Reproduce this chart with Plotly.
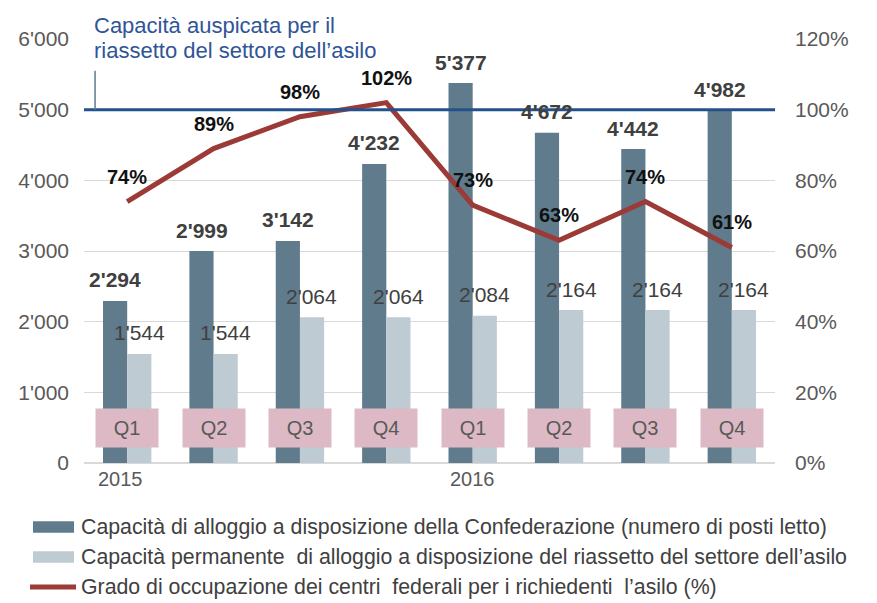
import plotly.graph_objects as go

periods = ["2015 Q1", "2015 Q2", "2015 Q3", "2015 Q4", "2016 Q1", "2016 Q2", "2016 Q3", "2016 Q4"]
quarter_labels = ["Q1", "Q2", "Q3", "Q4", "Q1", "Q2", "Q3", "Q4"]
year_labels = ["2015", "2016"]
year_positions = ["2015 Q1", "2016 Q1"]
capacity_confed = [2294, 2999, 3142, 4232, 5377, 4672, 4442, 4982]
capacity_permanent = [1544, 1544, 2064, 2064, 2084, 2164, 2164, 2164]
occupancy_pct = [74, 89, 98, 102, 73, 63, 74, 61]
target_capacity = 5000
target_label_lines = ["Capacità auspicata per il", "riassetto del settore dell’asilo"]

names = [
    "Capacità di alloggio a disposizione della Confederazione (numero di posti letto)",
    "Capacità permanente  di alloggio a disposizione del riassetto del settore dell’asilo",
    "Grado di occupazione dei centri  federali per i richiedenti  l’asilo (%)",
]

FONT = "Liberation Sans, Arial, sans-serif"
GRAY = "#595959"
DARK = "#404040"
C_DARK = "#5f7b8c"
C_LIGHT = "#bfcbd3"
C_LINE = "#9b3a36"


def fmt(v):
    return f"{v:,}".replace(",", "'")


fig = go.Figure()
fig.add_trace(go.Bar(
    x=periods, y=capacity_confed, name=names[0],
    marker=dict(color=C_DARK, line=dict(width=0)), showlegend=False,
))
fig.add_trace(go.Bar(
    x=periods, y=capacity_permanent, name=names[1],
    marker=dict(color=C_LIGHT, line=dict(width=0)), showlegend=False,
))
fig.add_trace(go.Scatter(
    x=periods, y=occupancy_pct, name=names[2], yaxis="y2",
    mode="lines", line=dict(color=C_LINE, width=5),
    cliponaxis=False, showlegend=False,
))

# data labels
for p, v in zip(periods, capacity_confed):
    fig.add_annotation(x=p, y=v, xref="x", yref="y", text=fmt(v), showarrow=False,
                       xshift=-12, yshift=21, yanchor="middle",
                       font=dict(family=FONT, size=21, color=DARK, weight="bold"))
for p, v in zip(periods, capacity_permanent):
    fig.add_annotation(x=p, y=v, xref="x", yref="y", text=fmt(v), showarrow=False,
                       xshift=12, yshift=21, yanchor="middle",
                       font=dict(family=FONT, size=21, color=DARK))
for p, v in zip(periods, occupancy_pct):
    fig.add_annotation(x=p, y=v, xref="x", yref="y2", text=f"{v}%", showarrow=False,
                       yshift=25, yanchor="middle",
                       font=dict(family=FONT, size=20, color="#111111", weight="bold"))

# target capacity line
fig.add_shape(type="line", xref="paper", x0=0, x1=1, yref="y", y0=target_capacity, y1=target_capacity,
              line=dict(color="#24508b", width=3), layer="above")
fig.add_shape(type="line", xref="paper", x0=0.016, x1=0.016, yref="y", y0=target_capacity, y1=5550,
              line=dict(color="#5f7b8c", width=1.5))
for yy, line_text in zip([1.033, 0.974], target_label_lines):
    fig.add_annotation(xref="paper", yref="paper", x=0.0116, y=yy, xanchor="left", yanchor="middle",
                       align="left", showarrow=False, text=line_text,
                       font=dict(family=FONT, size=22, color="#2f5597"))

# quarter boxes
for p, q in zip(periods, quarter_labels):
    fig.add_annotation(x=p, y=490, xref="x", yref="y", text=q, showarrow=False,
                       bgcolor="#dcb9c5", width=58, height=34, borderpad=2,
                       font=dict(family=FONT, size=20, color=GRAY))
# years
for p, yl in zip(year_positions, year_labels):
    fig.add_annotation(x=p, y=0, xref="x", yref="paper", yshift=-29, text=yl, showarrow=False,
                       xshift=-7 if yl == "2015" else 0,
                       font=dict(family=FONT, size=20, color=GRAY))

# legend (drawn by hand to match the wide swatches)
leg_y = [-0.151, -0.2217, -0.2925]
swatch_h = 0.0135
for i, (yy, nm) in enumerate(zip(leg_y, names)):
    if i < 2:
        fig.add_shape(type="rect", xref="paper", yref="paper", x0=-0.0738, x1=-0.0145,
                      y0=yy - swatch_h, y1=yy + swatch_h,
                      fillcolor=[C_DARK, C_LIGHT][i], line=dict(width=0))
    else:
        fig.add_shape(type="line", xref="paper", yref="paper", x0=-0.0781, x1=-0.0116,
                      y0=yy, y1=yy, line=dict(color=C_LINE, width=5))
    fig.add_annotation(xref="paper", yref="paper", x=-0.0072, y=yy, xanchor="left", yanchor="middle",
                       showarrow=False, text=nm, font=dict(family=FONT, size=21.3, color=DARK))

fig.update_layout(
    width=869, height=595,
    margin=dict(l=76, r=102, t=31, b=140, autoexpand=False),
    paper_bgcolor="white", plot_bgcolor="white",
    separators=".'",
    barmode="group", bargap=0.44, bargroupgap=0,
    font=dict(family=FONT, color=GRAY),
    xaxis=dict(showticklabels=False, showgrid=False, zeroline=False, showline=False),
    yaxis=dict(range=[0, 6000], dtick=1000, tickformat=",", showgrid=True, gridcolor="#d9d9d9",
               zeroline=True, zerolinecolor="#d9d9d9", tickfont=dict(size=21, color=GRAY),
               ticks="", ticklabelstandoff=14),
    yaxis2=dict(range=[0, 120], dtick=20, ticksuffix="%", overlaying="y", side="right",
                showgrid=False, zeroline=False, tickfont=dict(size=21, color=GRAY),
                ticklabelstandoff=19),
    showlegend=False,
)

fig.write_html("out.html")
